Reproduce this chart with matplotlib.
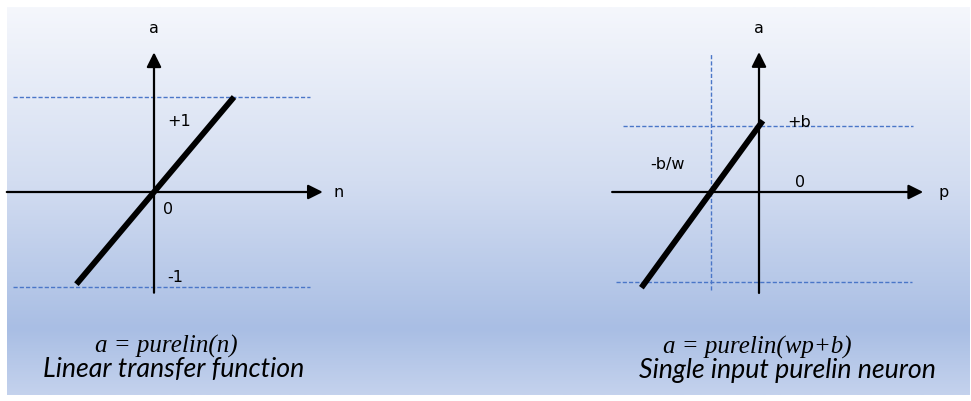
import matplotlib.pyplot as plt
import numpy as np
from matplotlib.colors import LinearSegmentedColormap

# left panel: a = purelin(n)
lin_n = [-0.97, 1.0]
lin_a = [-0.97, 1.0]
lin_levels = [1.0, -1.0]
lin_labels = ["+1", "0", "-1"]

# right panel: a = purelin(wp + b), with w = 1, b = 1
w, b = 1.0, 1.0
neu_p = np.array([-2.45, 0.08])
neu_a = w * neu_p + b
neu_low = -1.36

W, H = 971, 401
fig = plt.figure(figsize=(W / 100, H / 100), dpi=100)
fig.patch.set_facecolor("white")

# gradient background box
bg = fig.add_axes([7 / W, (H - 395) / H, 962 / W, 388 / H])
grad = LinearSegmentedColormap.from_list(
    "bg", [(0.0, "#f5f7fc"), (0.45, "#d3ddf1"), (0.83, "#a9bee4"), (1.0, "#c4d2ed")]
)
bg.imshow(np.linspace(0, 1, 256).reshape(-1, 1), aspect="auto", cmap=grad,
          extent=[0, 1, 0, 1])
bg.axis("off")

ARROW = dict(arrowstyle="-|>", color="black", lw=1.6, mutation_scale=22,
             shrinkA=0, shrinkB=0)
DASH = dict(color="#4a76c8", lw=1.0, ls=(0, (3, 1.5)))
LBL = dict(fontsize=11.5, family="DejaVu Sans")
FORM = dict(fontsize=18, family="Liberation Serif", style="italic", ha="center", va="center")
CAP = dict(fontsize=19.3, family="Lato", style="italic", ha="center", va="center")


def panel(x0, x1, ox, oy, sx, sy):
    ax = fig.add_axes([x0 / W, 0, (x1 - x0) / W, 1])
    ax.set_xlim((x0 - ox) / sx, (x1 - ox) / sx)
    ax.set_ylim((oy - H) / sy, oy / sy)
    ax.axis("off")
    ax.patch.set_alpha(0)
    return ax


# ---- left panel ----
ax = panel(0, 480, 154, 192, 80, 95)
for lv in lin_levels:
    ax.plot([-1.76, 1.95], [lv, lv], **DASH)
ax.annotate("", xy=(2.11, 0), xytext=(-1.84, 0), arrowprops=ARROW)
ax.annotate("", xy=(0, 1.47), xytext=(0, -1.06), arrowprops=ARROW)
ax.plot(lin_n, lin_a, color="black", lw=4.2, solid_capstyle="butt")
ax.text(0, 1.72, "a", ha="center", va="center", **LBL)
ax.text(2.24, 0, "n", ha="left", va="center", **LBL)
ax.text(0.16, 0.74, lin_labels[0], ha="left", va="center", **LBL)
ax.text(0.11, -0.18, lin_labels[1], ha="left", va="center", **LBL)
ax.text(0.16, -0.9, lin_labels[2], ha="left", va="center", **LBL)
ax.text(0.16, -1.63, "a = purelin(n)", **FORM)
ax.text(0.25, -1.87, "Linear transfer function", **CAP)

# ---- right panel ----
ax = panel(480, 971, 759, 192, 48, 66)
ax.plot([-b / w, -b / w], [-1.48, 2.1], **DASH)
ax.plot([-2.83, 3.21], [b, b], **DASH)
ax.plot([-2.98, 3.19], [neu_low, neu_low], **DASH)
ax.annotate("", xy=(3.42, 0), xytext=(-3.06, 0), arrowprops=ARROW)
ax.annotate("", xy=(0, 2.12), xytext=(0, -1.53), arrowprops=ARROW)
ax.plot(neu_p, neu_a, color="black", lw=4.2, solid_capstyle="butt")
ax.text(0, 2.47, "a", ha="center", va="center", **LBL)
ax.text(3.73, 0, "p", ha="left", va="center", **LBL)
ax.text(0.58, 1.06, "+b", ha="left", va="center", **LBL)
ax.text(-2.27, 0.41, "-b/w", ha="left", va="center", **LBL)
ax.text(0.75, 0.14, "0", ha="left", va="center", **LBL)
ax.text(-0.04, -2.35, "a = purelin(wp+b)", **FORM)
ax.text(0.6, -2.7, "Single input purelin neuron", **CAP)

fig.savefig("out.png", dpi=100, facecolor="white")
